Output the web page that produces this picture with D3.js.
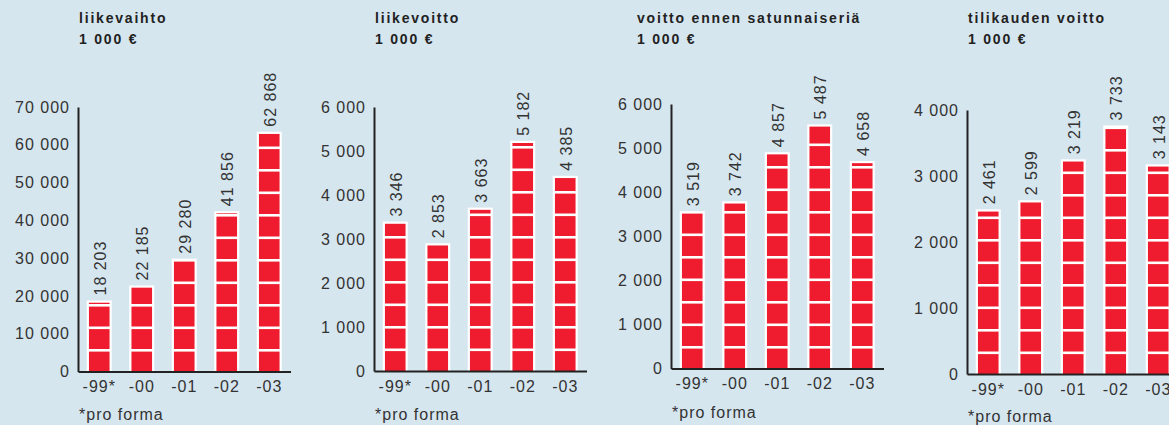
<!DOCTYPE html>
<html>
<head>
<meta charset="utf-8">
<script src="https://cdn.jsdelivr.net/npm/d3@7"></script>
<style>
  html, body { margin: 0; padding: 0; background: #d6e6ef; }
  svg { display: block; font-family: "Liberation Sans", Arial, sans-serif; }
  .tick text, .val, .note { font-size: 16px; fill: #333; letter-spacing: 1px; }
  .title { font-size: 14px; font-weight: bold; fill: #222; letter-spacing: 1.8px; }
</style>
</head>
<body>
<svg id="chart" width="1169" height="425"></svg>
<script>
// years on the x axis
var years = ["-99*", "-00", "-01", "-02", "-03"];

// values, 1 000 €
var liikevaihto = [18203, 22185, 29280, 41856, 62868];
var liikevoitto = [3346, 2853, 3663, 5182, 4385];
var voittoEnnen = [3519, 3742, 4857, 5487, 4658];
var tilikaudenVoitto = [2461, 2599, 3219, 3733, 3143];

var titles = ["liikevaihto", "liikevoitto", "voitto ennen satunnaiseriä", "tilikauden voitto"];
var unitLabel = "1 000 €";
var noteLabel = "*pro forma";

var yMax = [70000, 6000, 6000, 4000];
var yTicks = [
  [0, 10000, 20000, 30000, 40000, 50000, 60000, 70000],
  [0, 1000, 2000, 3000, 4000, 5000, 6000],
  [0, 1000, 2000, 3000, 4000, 5000, 6000],
  [0, 1000, 2000, 3000, 4000]
];
var series = [liikevaihto, liikevoitto, voittoEnnen, tilikaudenVoitto];

// where each small chart sits (axis x, top, baseline, title x, note baseline)
var panels = [
  {ax: 78,  top: 107, base: 371.5, tx: 79,  note: 420},
  {ax: 374, top: 107, base: 371,   tx: 375, note: 420},
  {ax: 671, top: 104, base: 368.5, tx: 637, note: 418},
  {ax: 967, top: 110, base: 374,   tx: 968, note: 422}
];

var RED = "#ee1c2e";
var PITCH = 22.5, GAP = 2.6, EDGE = 2.2;

var fmt = d3.formatLocale({decimal: ",", thousands: " ", grouping: [3], currency: ["", " €"]}).format(",d");

var svg = d3.select("#chart");

panels.forEach(function(p, i) {
  var g = svg.append("g");
  var data = series[i].map(function(v, j) { return {year: years[j], value: v}; });

  var x = d3.scaleBand().domain(years).range([p.ax, p.ax + 212.5])
    .paddingInner(0.412).paddingOuter(0.206);
  var y = d3.scaleLinear().domain([0, yMax[i]]).range([p.base, p.top]);

  // titles
  g.append("text").attr("class", "title").attr("x", p.tx).attr("y", 23).text(titles[i]);
  g.append("text").attr("class", "title").attr("x", p.tx).attr("y", 44).text(unitLabel);

  // bars: white outline then stacked red blocks
  var bars = g.selectAll(".bar").data(data).enter().append("g").attr("class", "bar");

  bars.append("rect")
    .attr("x", function(d) { return x(d.year); })
    .attr("y", function(d) { return y(d.value) - EDGE; })
    .attr("width", x.bandwidth())
    .attr("height", function(d) { return p.base - y(d.value) + EDGE; })
    .attr("fill", "#fff");

  bars.each(function(d) {
    var top = y(d.value);
    var n = Math.ceil((p.base - top) / PITCH);
    d3.select(this).selectAll(".blk").data(d3.range(n)).enter().append("rect")
      .attr("class", "blk")
      .attr("x", x(d.year) + EDGE)
      .attr("width", x.bandwidth() - 2 * EDGE)
      .attr("y", function(k) { return Math.max(p.base - k * PITCH - (PITCH - GAP), top); })
      .attr("height", function(k) {
        var b = p.base - k * PITCH;
        return Math.max(0, b - Math.max(b - (PITCH - GAP), top));
      })
      .attr("fill", RED);
  });

  // value labels, rotated
  bars.append("text").attr("class", "val")
    .attr("transform", function(d) {
      return "translate(" + (x(d.year) + x.bandwidth() / 2 + 1) + "," + (y(d.value) - EDGE - 5) + ") rotate(-90)";
    })
    .attr("dominant-baseline", "central")
    .text(function(d) { return fmt(d.value); });

  // axes
  var yAxis = g.append("g").attr("transform", "translate(" + p.ax + ",0)")
    .call(d3.axisLeft(y).tickValues(yTicks[i]).tickFormat(fmt).tickSize(0).tickPadding(8));
  var xAxis = g.append("g").attr("transform", "translate(0," + p.base + ")")
    .call(d3.axisBottom(x).tickSize(0).tickPadding(8));

  [yAxis, xAxis].forEach(function(a) {
    a.select(".domain").attr("stroke", "#222").attr("stroke-width", 2);
    a.selectAll(".tick text").attr("font-family", null).attr("font-size", null);
  });
  xAxis.selectAll(".tick text").attr("dy", "0.8em");

  g.append("text").attr("class", "note").attr("x", p.ax + 1).attr("y", p.note).text(noteLabel);
});
</script>
</body>
</html>
